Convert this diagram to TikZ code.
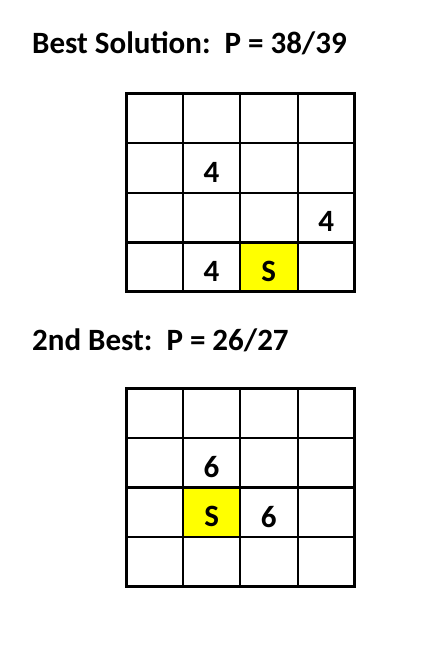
\documentclass[tikz,border=0pt]{standalone}
\usepackage{fontspec}
\setmainfont{Carlito}
\usetikzlibrary{positioning}
\definecolor{startcol}{RGB}{255, 255, 0}
\tikzset{
  title/.style={anchor=base west, inner sep=0pt, font=\fontsize{31}{36}\selectfont\bfseries},
  cell/.style={inner sep=0pt, font=\fontsize{31}{36}\selectfont\bfseries, yshift=-4pt},
  outer/.style={line width=3pt},
  inner/.style={line width=2pt},
}

\begin{document}
\begin{tikzpicture}[x=1pt, y=-1pt]
  \useasboundingbox (0,0) rectangle (430,647);

  % start cells
  \fill[startcol] (240,242.5) rectangle ++(57.2,49.5);
  \fill[startcol] (183.2,487.5) rectangle ++(57.2,49.5);

  % both grids
  \foreach \gy in {93.5, 388.5} {
    \foreach \i in {1,2,3} {
      \draw[inner] (126+\i*57.2, \gy) -- ++(0,198);
      \draw[inner] (126, \gy+\i*49.5) -- ++(228.8,0);
    }
    \draw[outer] (126,\gy) rectangle ++(228.8,198);
  }
  \draw[outer] (126,242) -- ++(228.8,0);
  \draw[outer] (126,487.5) -- ++(228.8,0);

  \node[title] (best) at (32,54) {Best Solution:\ \ P = 38/39};
  \node[cell] (b4a) at (211.6,168.25) {4};
  \node[cell] (b4b) at (326.2,217.75) {4};
  \node[cell] (b4c) at (211.6,267.25) {4};
  \node[cell] (bs) at (268.8,267.25) {S};

  \node[title] (second) at (32,350) {2nd Best:\ \ P = 26/27};
  \node[cell] (n6a) at (211.6,463.25) {6};
  \node[cell] (n6b) at (268.8,512.75) {6};
  \node[cell] (ns) at (211.6,512.75) {S};
\end{tikzpicture}
\end{document}
